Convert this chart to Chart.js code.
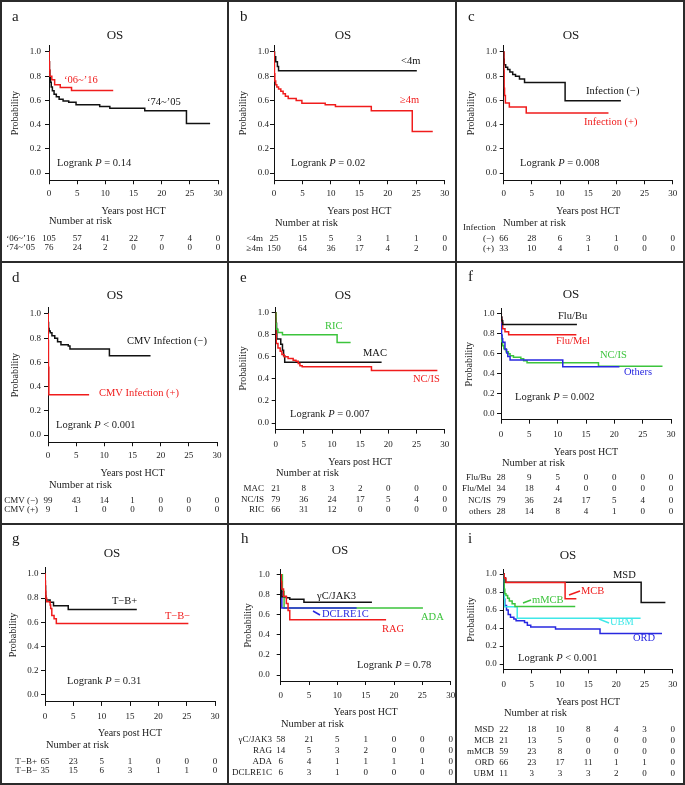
<!DOCTYPE html>
<html>
<head>
<meta charset="utf-8">
<script src="https://cdn.jsdelivr.net/npm/chart.js@4"></script>
<style>
  body { margin: 0; background: #fff; }
  #fig { position: relative; width: 685px; height: 785px; overflow: hidden; }
  #fig canvas { position: absolute; }
  .ln { position: absolute; background: #2b2b2b; }
</style>
</head>
<body>
<div id="fig">
  <canvas id="pa" width="228" height="262" style="left:0px;top:0px"></canvas>
  <canvas id="pb" width="228" height="262" style="left:228px;top:0px"></canvas>
  <canvas id="pc" width="229" height="262" style="left:456px;top:0px"></canvas>
  <canvas id="pd" width="228" height="262" style="left:0px;top:262px"></canvas>
  <canvas id="pe" width="228" height="262" style="left:228px;top:262px"></canvas>
  <canvas id="pf" width="229" height="262" style="left:456px;top:262px"></canvas>
  <canvas id="pg" width="228" height="261" style="left:0px;top:524px"></canvas>
  <canvas id="ph" width="228" height="261" style="left:228px;top:524px"></canvas>
  <canvas id="pi" width="229" height="261" style="left:456px;top:524px"></canvas>
  <!-- panel frames -->
  <div class="ln" style="left:0;top:0;width:685px;height:2px"></div>
  <div class="ln" style="left:0;top:261px;width:685px;height:2px"></div>
  <div class="ln" style="left:0;top:523px;width:685px;height:2px"></div>
  <div class="ln" style="left:0;top:783px;width:685px;height:2px"></div>
  <div class="ln" style="left:0;top:0;width:2px;height:785px"></div>
  <div class="ln" style="left:227px;top:0;width:2px;height:785px"></div>
  <div class="ln" style="left:455px;top:0;width:2px;height:785px"></div>
  <div class="ln" style="left:683px;top:0;width:2px;height:785px"></div>
</div>
<script>
const SERIF = '"Liberation Serif", "Times New Roman", serif';
const INK = '#1a1a1a';
const RED = '#f01c1c', BLACK = '#111111', GREEN = '#3cc43c', BLUE = '#2828e0', CYAN = '#40e8e8';

const xTicks = [0, 5, 10, 15, 20, 25, 30];
const yTicks = [0, 0.2, 0.4, 0.6, 0.8, 1.0];
const riskTimes = [0, 5, 10, 15, 20, 25, 30];

// a: transplant era
const a7405T = [0, 0.03, 0.08, 0.15, 0.25, 0.4, 0.6, 0.9, 1.3, 1.8, 2.5, 3.5, 4.8, 9.0, 10.8, 17.0, 24.4, 28.6];
const a7405S = [1.0, 0.92, 0.85, 0.79, 0.75, 0.71, 0.68, 0.65, 0.63, 0.61, 0.595, 0.585, 0.565, 0.55, 0.536, 0.514, 0.41, 0.41];
const a0616T = [0, 0.03, 0.08, 0.15, 0.5, 1.0, 2.0, 4.0, 11.4];
const a0616S = [1.0, 0.92, 0.85, 0.80, 0.77, 0.73, 0.707, 0.682, 0.682];
const aNames = ['‘06~’16', '‘74~’05'];
const aRisk = [[105, 57, 41, 22, 7, 4, 0], [76, 24, 2, 0, 0, 0, 0]];
const aP = '= 0.14';

// b: age at HCT
const bLt4T = [0, 0.1, 0.3, 0.6, 0.8, 25.1];
const bLt4S = [1.0, 0.96, 0.92, 0.88, 0.845, 0.845];
const bGe4T = [0, 0.03, 0.08, 0.15, 0.3, 0.5, 0.8, 1.2, 1.6, 2.0, 2.5, 3.9, 4.9, 9.0, 10.8, 17.1, 24.3, 27.9];
const bGe4S = [1.0, 0.9, 0.82, 0.76, 0.73, 0.71, 0.695, 0.675, 0.655, 0.635, 0.615, 0.6, 0.577, 0.565, 0.55, 0.515, 0.343, 0.343];
const bNames = ['<4m', '≥4m'];
const bRisk = [[25, 15, 5, 3, 1, 1, 0], [150, 64, 36, 17, 4, 2, 0]];
const bP = '= 0.02';

// c: infection
const cNegT = [0, 0.03, 0.1, 0.35, 0.7, 1.1, 1.6, 2.1, 2.8, 3.7, 10.9, 20.8];
const cNegS = [1, 0.94, 0.895, 0.875, 0.855, 0.835, 0.815, 0.8, 0.777, 0.747, 0.598, 0.598];
const cPosT = [0, 0.03, 0.08, 0.15, 0.3, 1.0, 4.0, 18.6];
const cPosS = [1, 0.85, 0.7, 0.64, 0.578, 0.545, 0.495, 0.495];
const cNames = ['(−)', '(+)'];
const cRisk = [[66, 28, 6, 3, 1, 0, 0], [33, 10, 4, 1, 0, 0, 0]];
const cP = '= 0.008';

// d: CMV infection
const dNegT = [0, 0.03, 0.1, 0.2, 0.4, 0.7, 1.2, 1.7, 2.3, 3.6, 3.9, 10.9, 18.2];
const dNegS = [1, 0.93, 0.88, 0.86, 0.845, 0.82, 0.80, 0.77, 0.745, 0.735, 0.71, 0.655, 0.655];
const dPosT = [0, 0.04, 0.08, 0.15, 7.3];
const dPosS = [1, 0.78, 0.56, 0.333, 0.333];
const dNames = ['CMV (−)', 'CMV (+)'];
const dRisk = [[99, 43, 14, 1, 0, 0, 0], [9, 1, 0, 0, 0, 0, 0]];
const dP = '< 0.001';

// e: conditioning
const eMacT = [0, 0.05, 0.1, 0.15, 0.2, 0.9, 1.2, 1.4, 1.6, 18.8];
const eMacS = [1, 0.95, 0.905, 0.857, 0.762, 0.714, 0.66, 0.61, 0.55, 0.55];
const eNcT = [0, 0.02, 0.05, 0.1, 0.4, 0.8, 1.1, 1.5, 2.2, 3.1, 3.6, 4.0, 4.3, 4.7, 17.0, 28.7];
const eNcS = [1, 0.88, 0.8, 0.72, 0.68, 0.65, 0.62, 0.60, 0.585, 0.57, 0.56, 0.54, 0.52, 0.51, 0.475, 0.475];
const eRicT = [0, 0.03, 0.1, 0.4, 1.2, 10.9, 13.3];
const eRicS = [1, 0.9, 0.85, 0.82, 0.80, 0.73, 0.73];
const eNames = ['MAC', 'NC/IS', 'RIC'];
const eRisk = [[21, 8, 3, 2, 0, 0, 0], [79, 36, 24, 17, 5, 4, 0], [66, 31, 12, 0, 0, 0, 0]];
const eP = '= 0.007';

// f: regimen
const fBuT = [0, 0.05, 0.15, 0.3, 13.4];
const fBuS = [1, 0.964, 0.929, 0.893, 0.893];
const fMelT = [0, 0.05, 0.1, 0.2, 0.3, 0.7, 1.35, 13.3];
const fMelS = [1, 0.97, 0.94, 0.91, 0.85, 0.82, 0.79, 0.79];
const fNcT = [0, 0.02, 0.05, 0.1, 0.3, 0.5, 0.9, 1.3, 1.6, 2.2, 3.5, 4.0, 4.6, 17.2, 28.5];
const fNcS = [1, 0.88, 0.78, 0.72, 0.68, 0.65, 0.62, 0.60, 0.58, 0.565, 0.55, 0.53, 0.51, 0.475, 0.475];
const fOthT = [0, 0.03, 0.06, 0.1, 0.2, 0.3, 0.7, 1.0, 1.2, 1.6, 10.9, 20.9];
const fOthS = [1, 0.964, 0.857, 0.786, 0.75, 0.714, 0.643, 0.607, 0.571, 0.536, 0.47, 0.47];
const fNames = ['Flu/Bu', 'Flu/Mel', 'NC/IS', 'others'];
const fRisk = [[28, 9, 5, 0, 0, 0, 0], [34, 18, 4, 0, 0, 0, 0], [79, 36, 24, 17, 5, 4, 0], [28, 14, 8, 4, 1, 0, 0]];
const fP = '= 0.002';

// g: phenotype
const gPlusT = [0, 0.05, 0.1, 0.15, 0.9, 1.5, 4.1, 16.2];
const gPlusS = [1, 0.9, 0.82, 0.785, 0.765, 0.737, 0.705, 0.705];
const gMinusT = [0, 0.03, 0.08, 0.15, 0.3, 0.9, 1.0, 1.2, 1.6, 2.0, 25.3];
const gMinusS = [1, 0.943, 0.857, 0.8, 0.771, 0.743, 0.714, 0.657, 0.629, 0.59, 0.59];
const gNames = ['T−B+', 'T−B−'];
const gRisk = [[65, 23, 5, 1, 0, 0, 0], [35, 15, 6, 3, 1, 1, 0]];
const gP = '= 0.31';

// h: genotype
const hJakT = [0, 0.03, 0.1, 0.2, 1.0, 1.6, 4.1, 16.1];
const hJakS = [1, 0.93, 0.83, 0.78, 0.77, 0.755, 0.725, 0.725];
const hRagT = [0, 0.1, 0.2, 0.5, 1.0, 1.3, 1.6, 18.6];
const hRagS = [1, 0.929, 0.857, 0.786, 0.714, 0.643, 0.55, 0.55];
const hAdaT = [0, 0.3, 0.6, 25.1];
const hAdaS = [1, 0.833, 0.667, 0.667];
const hDclT = [0, 0.1, 0.2, 13.4];
const hDclS = [1, 0.833, 0.667, 0.667];
const hNames = ['γC/JAK3', 'RAG', 'ADA', 'DCLRE1C'];
const hRisk = [[58, 21, 5, 1, 0, 0, 0], [14, 5, 3, 2, 0, 0, 0], [6, 4, 1, 1, 1, 1, 0], [6, 3, 1, 0, 0, 0, 0]];
const hP = '= 0.78';

// i: donor source
const iMsdT = [0, 0.1, 0.3, 24.4, 28.7];
const iMsdS = [1, 0.955, 0.909, 0.682, 0.682];
const iMcbT = [0, 0.1, 0.4, 10.9, 12.9];
const iMcbS = [1, 0.952, 0.905, 0.724, 0.724];
const iMmcbT = [0, 0.03, 0.1, 0.2, 0.4, 0.7, 1.0, 1.5, 2.0, 12.7];
const iMmcbS = [1, 0.9, 0.83, 0.78, 0.76, 0.73, 0.70, 0.67, 0.64, 0.64];
const iOrdT = [0, 0.03, 0.08, 0.2, 0.5, 0.8, 1.2, 1.8, 2.2, 3.7, 4.2, 4.8, 9.2, 17.1, 28.1];
const iOrdS = [1, 0.85, 0.72, 0.65, 0.60, 0.55, 0.52, 0.50, 0.48, 0.46, 0.43, 0.41, 0.39, 0.34, 0.34];
const iUbmT = [0, 0.03, 0.06, 0.1, 0.15, 2.4, 24.3];
const iUbmS = [1, 0.909, 0.818, 0.727, 0.636, 0.509, 0.509];
const iNames = ['MSD', 'MCB', 'mMCB', 'ORD', 'UBM'];
const iRisk = [[22, 18, 10, 8, 4, 3, 0], [21, 13, 5, 0, 0, 0, 0], [59, 23, 8, 0, 0, 0, 0], [66, 23, 17, 11, 1, 1, 0], [11, 3, 3, 3, 2, 0, 0]];
const iP = '< 0.001';

// layout of each panel (pixels inside its own canvas); curves listed bottom to top
const panels = [
  { id: 'pa', letter: 'a', ax: 49, ax30: 218, y1: 52, y0: 173, tickY: 194, yLabR: 41, xTitleY: 211, yTitleX: 15,
    letterXY: [12, 17], osXY: [115, 36], logXY: [57, 163], p: aP, narXY: [49, 221], rowY: [239, 248], rowR: 35,
    names: aNames, risk: aRisk,
    curves: [{ t: a7405T, s: a7405S, c: BLACK }, { t: a0616T, s: a0616S, c: RED }],
    labels: [{ text: '‘06~’16', c: RED, x: 64, y: 80 }, { text: '‘74~’05', c: BLACK, x: 147, y: 102 }], pointers: [] },
  { id: 'pb', letter: 'b', ax: 46, ax30: 216.7, y1: 52, y0: 173, tickY: 194, yLabR: 41, xTitleY: 211, yTitleX: 15,
    letterXY: [12, 17], osXY: [115, 36], logXY: [63, 163], p: bP, narXY: [47, 223], rowY: [239, 249], rowR: 35,
    names: bNames, risk: bRisk,
    curves: [{ t: bLt4T, s: bLt4S, c: BLACK }, { t: bGe4T, s: bGe4S, c: RED }],
    labels: [{ text: '<4m', c: BLACK, x: 173, y: 61 }, { text: '≥4m', c: RED, x: 172, y: 100 }], pointers: [] },
  { id: 'pc', letter: 'c', ax: 47.7, ax30: 216.7, y1: 52, y0: 173, tickY: 194, yLabR: 41, xTitleY: 211, yTitleX: 15,
    letterXY: [12, 17], osXY: [115, 36], logXY: [64, 163], p: cP, narXY: [47, 223], rowY: [239, 249], rowR: 38,
    names: cNames, risk: cRisk, header: { text: 'Infection', x: 7, y: 228 },
    curves: [{ t: cNegT, s: cNegS, c: BLACK }, { t: cPosT, s: cPosS, c: RED }],
    labels: [{ text: 'Infection (−)', c: BLACK, x: 130, y: 91 }, { text: 'Infection (+)', c: RED, x: 128, y: 122 }], pointers: [] },
  { id: 'pd', letter: 'd', ax: 48, ax30: 217, y1: 52, y0: 173, tickY: 194, yLabR: 41, xTitleY: 211, yTitleX: 15,
    letterXY: [12, 16], osXY: [115, 34], logXY: [56, 163], p: dP, narXY: [49, 223], rowY: [239, 248], rowR: 38,
    names: dNames, risk: dRisk,
    curves: [{ t: dNegT, s: dNegS, c: BLACK }, { t: dPosT, s: dPosS, c: RED }],
    labels: [{ text: 'CMV Infection (−)', c: BLACK, x: 127, y: 79 }, { text: 'CMV Infection (+)', c: RED, x: 99, y: 131 }], pointers: [] },
  { id: 'pe', letter: 'e', ax: 47.7, ax30: 216.7, y1: 50.7, y0: 161, tickY: 183, yLabR: 41, xTitleY: 200, yTitleX: 15,
    letterXY: [12, 16], osXY: [115, 34], logXY: [62, 152], p: eP, narXY: [48, 211], rowY: [227, 237.5, 248], rowR: 36,
    names: eNames, risk: eRisk,
    curves: [{ t: eMacT, s: eMacS, c: BLACK }, { t: eNcT, s: eNcS, c: RED }, { t: eRicT, s: eRicS, c: GREEN }],
    labels: [{ text: 'RIC', c: GREEN, x: 97, y: 64 }, { text: 'MAC', c: BLACK, x: 135, y: 91 }, { text: 'NC/IS', c: RED, x: 185, y: 117 }], pointers: [] },
  { id: 'pf', letter: 'f', ax: 45, ax30: 215, y1: 51.7, y0: 151.7, tickY: 173, yLabR: 38.5, xTitleY: 190, yTitleX: 13.5,
    letterXY: [12, 15], osXY: [115, 33], logXY: [59, 135], p: fP, narXY: [46, 201], rowY: [216, 227, 239, 250], rowR: 35,
    names: fNames, risk: fRisk,
    curves: [{ t: fNcT, s: fNcS, c: GREEN }, { t: fOthT, s: fOthS, c: BLUE }, { t: fMelT, s: fMelS, c: RED }, { t: fBuT, s: fBuS, c: BLACK }],
    labels: [{ text: 'Flu/Bu', c: BLACK, x: 102, y: 54 }, { text: 'Flu/Mel', c: RED, x: 100, y: 79 }, { text: 'NC/IS', c: GREEN, x: 144, y: 93 }, { text: 'Others', c: BLUE, x: 168, y: 110 }], pointers: [] },
  { id: 'pg', letter: 'g', ax: 45, ax30: 215, y1: 50, y0: 170.7, tickY: 193, yLabR: 38.5, xTitleY: 209, yTitleX: 13.5,
    letterXY: [12, 15], osXY: [112, 30], logXY: [67, 157], p: gP, narXY: [46, 221], rowY: [238, 247], rowR: 37,
    names: gNames, risk: gRisk,
    curves: [{ t: gPlusT, s: gPlusS, c: BLACK }, { t: gMinusT, s: gMinusS, c: RED }],
    labels: [{ text: 'T−B+', c: BLACK, x: 112, y: 77 }, { text: 'T−B−', c: RED, x: 165, y: 92 }], pointers: [] },
  { id: 'ph', letter: 'h', ax: 52.7, ax30: 222.7, y1: 50.7, y0: 151, tickY: 172, yLabR: 41.7, xTitleY: 188, yTitleX: 20,
    letterXY: [13, 15], osXY: [112, 27], logXY: [129, 141], p: hP, narXY: [53, 200], rowY: [216, 227, 238, 249], rowR: 44,
    names: hNames, risk: hRisk,
    curves: [{ t: hAdaT, s: hAdaS, c: GREEN }, { t: hDclT, s: hDclS, c: BLUE }, { t: hJakT, s: hJakS, c: BLACK }, { t: hRagT, s: hRagS, c: RED }],
    labels: [{ text: 'γC/JAK3', c: BLACK, x: 89, y: 72 }, { text: 'DCLRE1C', c: BLUE, x: 94, y: 90 }, { text: 'ADA', c: GREEN, x: 193, y: 93 }, { text: 'RAG', c: RED, x: 154, y: 105 }],
    pointers: [{ c: BLUE, from: [85, 87], to: [92, 91] }] },
  { id: 'pi', letter: 'i', ax: 47.7, ax30: 216.7, y1: 50, y0: 140, tickY: 161, yLabR: 40.7, xTitleY: 178, yTitleX: 15,
    letterXY: [12, 15], osXY: [112, 32], logXY: [62, 134], p: iP, narXY: [48, 189], rowY: [206, 217, 228, 239, 250], rowR: 38,
    names: iNames, risk: iRisk,
    curves: [{ t: iOrdT, s: iOrdS, c: BLUE }, { t: iUbmT, s: iUbmS, c: CYAN }, { t: iMmcbT, s: iMmcbS, c: GREEN }, { t: iMsdT, s: iMsdS, c: BLACK }, { t: iMcbT, s: iMcbS, c: RED }],
    labels: [{ text: 'MSD', c: BLACK, x: 157, y: 51 }, { text: 'MCB', c: RED, x: 125, y: 67 }, { text: 'mMCB', c: GREEN, x: 76, y: 76 }, { text: 'UBM', c: CYAN, x: 154, y: 98 }, { text: 'ORD', c: BLUE, x: 177, y: 114 }],
    pointers: [{ c: RED, from: [113, 71], to: [124, 67] }, { c: GREEN, from: [67, 79], to: [75, 76] }, { c: CYAN, from: [143, 95], to: [153, 99] }] }
];

const TICK_FONT = { family: SERIF, size: 9 };
const TITLE_FONT = { family: SERIF, size: 10 };

function textPlugin(p) {
  return {
    id: 'panelText',
    afterDraw(chart) {
      const ctx = chart.ctx;
      const xs = chart.scales.x;
      ctx.save();
      ctx.textBaseline = 'middle';
      ctx.fillStyle = INK;

      ctx.font = `15px ${SERIF}`;
      ctx.textAlign = 'left';
      ctx.fillText(p.letter, p.letterXY[0], p.letterXY[1]);

      ctx.font = `13px ${SERIF}`;
      ctx.textAlign = 'center';
      ctx.fillText('OS', p.osXY[0], p.osXY[1]);

      // Logrank P with italic P
      ctx.textAlign = 'left';
      let lx = p.logXY[0];
      ctx.font = `10.5px ${SERIF}`;
      ctx.fillText('Logrank ', lx, p.logXY[1]);
      lx += ctx.measureText('Logrank ').width;
      ctx.font = `italic 10.5px ${SERIF}`;
      ctx.fillText('P', lx, p.logXY[1]);
      lx += ctx.measureText('P').width;
      ctx.font = `10.5px ${SERIF}`;
      ctx.fillText(' ' + p.p, lx, p.logXY[1]);

      // curve labels and leader lines
      p.labels.forEach(l => {
        ctx.fillStyle = l.c;
        ctx.fillText(l.text, l.x, l.y);
      });
      p.pointers.forEach(q => {
        ctx.strokeStyle = q.c;
        ctx.lineWidth = 1.5;
        ctx.beginPath();
        ctx.moveTo(q.from[0], q.from[1]);
        ctx.lineTo(q.to[0], q.to[1]);
        ctx.stroke();
      });

      // number at risk table
      ctx.fillStyle = INK;
      ctx.font = `10.5px ${SERIF}`;
      ctx.fillText('Number at risk', p.narXY[0], p.narXY[1]);
      ctx.font = `9px ${SERIF}`;
      if (p.header) ctx.fillText(p.header.text, p.header.x, p.header.y);
      p.risk.forEach((row, i) => {
        ctx.textAlign = 'right';
        ctx.fillText(p.names[i], p.rowR, p.rowY[i]);
        ctx.textAlign = 'center';
        row.forEach((n, j) => ctx.fillText(String(n), xs.getPixelForValue(riskTimes[j]), p.rowY[i]));
      });
      ctx.restore();
    }
  };
}

function makePanel(p) {
  const canvas = document.getElementById(p.id);
  const W = canvas.width, H = canvas.height;
  const span = p.y0 - p.y1;
  const yMin = -0.06, yMax = 1.05;
  const top = p.y1 - (yMax - 1) * span;
  const bottom = p.y0 - yMin * span;
  const tickLH = TICK_FONT.size * 1.2, titleLH = TITLE_FONT.size * 1.2;

  new Chart(canvas, {
    type: 'line',
    data: {
      datasets: p.curves.slice().reverse().map(c => ({
        data: c.t.map((t, i) => ({ x: t, y: c.s[i] })),
        borderColor: c.c,
        borderWidth: 1.5,
        stepped: 'before',
        pointRadius: 0,
        fill: false
      }))
    },
    options: {
      responsive: false,
      animation: false,
      devicePixelRatio: 1,
      layout: { padding: { left: 0, top: top, right: W - p.ax30, bottom: 0 } },
      plugins: { legend: { display: false }, tooltip: { enabled: false } },
      scales: {
        x: {
          type: 'linear', min: 0, max: 30,
          afterBuildTicks: s => { s.ticks = xTicks.map(v => ({ value: v })); },
          afterFit: s => { s.height = H - bottom; s.paddingLeft = 0; s.paddingRight = 0; },
          grid: { drawOnChartArea: false, color: BLACK, tickLength: 4 },
          border: { color: BLACK, width: 1 },
          ticks: { font: TICK_FONT, color: INK, maxRotation: 0, autoSkip: false,
                   padding: p.tickY - bottom - 4 - tickLH / 2, callback: v => String(v) },
          title: { display: true, text: 'Years post HCT', font: TITLE_FONT, color: INK,
                   padding: { top: 0, bottom: H - p.xTitleY - titleLH / 2 } }
        },
        y: {
          type: 'linear', min: yMin, max: yMax,
          afterBuildTicks: s => { s.ticks = yTicks.map(v => ({ value: v })); },
          afterFit: s => { s.width = p.ax; s.paddingTop = 0; s.paddingBottom = 0; },
          grid: { drawOnChartArea: false, color: BLACK, tickLength: 4 },
          border: { color: BLACK, width: 1 },
          ticks: { font: TICK_FONT, color: INK, autoSkip: false,
                   padding: p.ax - 4 - p.yLabR, callback: v => v.toFixed(1) },
          title: { display: true, text: 'Probability', font: TITLE_FONT, color: INK,
                   padding: { top: p.yTitleX - titleLH / 2, bottom: 0 } }
        }
      }
    },
    plugins: [textPlugin(p)]
  });
}

panels.forEach(makePanel);
</script>
</body>
</html>
